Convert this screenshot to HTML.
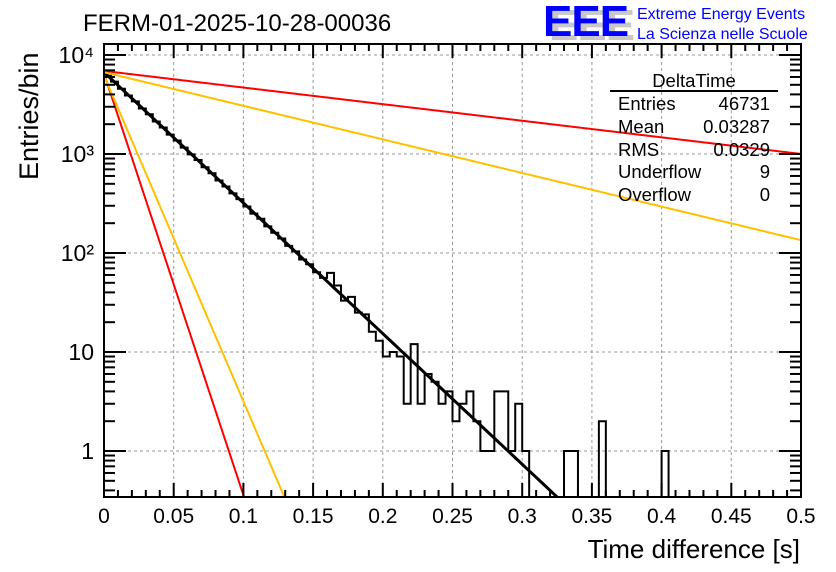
<!DOCTYPE html>
<html><head><meta charset="utf-8"><style>
body{margin:0;background:#fff}
svg{display:block;font-family:"Liberation Sans",sans-serif}
</style></head><body>
<svg id="c" width="836" height="572">
<rect x="0" y="0" width="836" height="572" fill="#fff"/>
<g id="grid"></g>
<g id="fits"></g>
<g id="hist"></g>
<g id="axes"></g>
<text x="83" y="31" font-size="24">FERM-01-2025-10-28-00036</text>
<g>
<text x="549" y="40" font-size="44" font-weight="bold" fill="#c8c8c8" letter-spacing="-1">EEE</text>
<text x="543" y="36" font-size="44" font-weight="bold" fill="#0000ff" letter-spacing="-1">EEE</text>
<text x="637" y="19" font-size="16" fill="#0000ff">Extreme Energy Events</text>
<text x="637" y="39" font-size="16" fill="#0000ff">La Scienza nelle Scuole</text>
</g>
<g font-size="18.5">
<text x="694" y="87" text-anchor="middle">DeltaTime</text>
<line x1="610" y1="91" x2="778" y2="91" stroke="#000" stroke-width="2"/>
<text x="618" y="110">Entries</text><text x="770" y="110" text-anchor="end">46731</text>
<text x="618" y="133">Mean</text><text x="770" y="133" text-anchor="end">0.03287</text>
<text x="618" y="156">RMS</text><text x="770" y="156" text-anchor="end">0.0329</text>
<text x="618" y="178">Underflow</text><text x="770" y="178" text-anchor="end">9</text>
<text x="618" y="201">Overflow</text><text x="770" y="201" text-anchor="end">0</text>
</g>
<text x="800" y="558" font-size="26" text-anchor="end">Time difference [s]</text>
<text transform="translate(38,180) rotate(-90)" font-size="27">Entries/bin</text>
</svg>
<script>
const binWidth = 0.005;
const counts = [6150,5380,4560,3900,3400,2880,2520,2130,1850,1570,1370,1160,990,870,735,640,540,470,400,350,295,250,222,186,160,140,118,104,86,77,64,56,63,47,33,36,25,24,16,13,9,10,9,3,12,3,6,5,3,4,2,3,4,2,1,1,4,4,1,3,1,0,0,0,0,0,1,1,0,0,0,2,0,0,0,0,0,0,0,0,1,0,0,0,0,0,0,0,0,0,0,0,0,0,0,0,0,0,0,0];
const fitN0 = [6700, 6900, 6700, 6500, 6200];
const fitTau = [0.0329, 0.259, 0.128, 0.0102, 0.0132];
const fitColors = ["#000","#ff0000","#ffc000","#ff0000","#ffc000"];
const xTicks = [0,0.05,0.1,0.15,0.2,0.25,0.3,0.35,0.4,0.45,0.5];
const xTickLabels = ["0","0.05","0.1","0.15","0.2","0.25","0.3","0.35","0.4","0.45","0.5"];
const yDecades = [0,1,2,3,4];
const yTickLabels = ["1","10","10²","10³","10⁴"];

const L=104,R=801,T=44,B=497;
const X=t=>104+t*1394;
const Y=v=>55+(4-Math.log10(v))*99;
const yc=v=>v<=0?B:Math.min(B,Math.max(T,Y(v)));
const NS="http://www.w3.org/2000/svg";
function mk(tag,attrs,parent){const e=document.createElementNS(NS,tag);for(const k in attrs)e.setAttribute(k,attrs[k]);parent.appendChild(e);return e;}
const grid=document.getElementById('grid'),fits=document.getElementById('fits'),hist=document.getElementById('hist'),axes=document.getElementById('axes');

xTicks.forEach((t,i)=>{ if(i>0&&i<xTicks.length-1){const l=mk('line',{x1:X(t),x2:X(t),y1:T,y2:B,stroke:'#999','stroke-dasharray':'3,3','stroke-width':1},grid);

}});
yDecades.forEach(d=>{const y=Y(Math.pow(10,d));const l=mk('line',{x1:L,x2:R,y1:y,y2:y,stroke:'#999','stroke-dasharray':'3,3','stroke-width':1},grid);

});

fitN0.forEach((n0,k)=>{let pts=[];for(let t=0;t<=0.5001;t+=0.0025){const v=n0*Math.exp(-t/fitTau[k]);const y=Y(v);if(y>B){const tb=fitTau[k]*Math.log(n0/Math.pow(10,(55+4*99-B)/99));pts.push(X(tb)+','+B);break;}pts.push(X(t)+','+y);}
const p=mk('polyline',{points:pts.join(' '),fill:'none',stroke:fitColors[k],'stroke-width':k==0?3:2},fits);

});

let d='M'+X(0)+','+B;
counts.forEach((c,i)=>{const y=yc(c);d+=' L'+X(i*binWidth)+','+y+' L'+X((i+1)*binWidth)+','+y;});
d+=' L'+X(counts.length*binWidth)+','+B;
const h=mk('path',{d:d,fill:'none',stroke:'#000','stroke-width':2},hist);



const fr=mk('rect',{x:L,y:T,width:R-L,height:B-T,fill:'none',stroke:'#000','stroke-width':2},axes);


for(let i=0;i<=50;i++){const x=X(i*0.01);const len=i%5==0?14:7;
mk('line',{x1:x,x2:x,y1:B,y2:B-len,stroke:'#000','stroke-width':2},axes);
mk('line',{x1:x,x2:x,y1:T,y2:T+len,stroke:'#000','stroke-width':2},axes);}
for(let d0=-1;d0<=4;d0++){for(let m=1;m<=9;m++){const v=m*Math.pow(10,d0);const y=Y(v);if(y<T||y>B)continue;const len=m==1?22:11;
mk('line',{x1:L,x2:L+len,y1:y,y2:y,stroke:'#000','stroke-width':2},axes);
mk('line',{x1:R,x2:R-len,y1:y,y2:y,stroke:'#000','stroke-width':2},axes);}}
xTicks.forEach((t,i)=>{const tx=mk('text',{x:X(t),y:523,'font-size':21,'text-anchor':'middle'},axes);tx.textContent=xTickLabels[i];

});
yDecades.forEach((d0,i)=>{const tx=mk('text',{x:94,y:Y(Math.pow(10,d0))+8,'font-size':23,'text-anchor':'end'},axes);tx.textContent=yTickLabels[i];

});
</script>
</body></html>
